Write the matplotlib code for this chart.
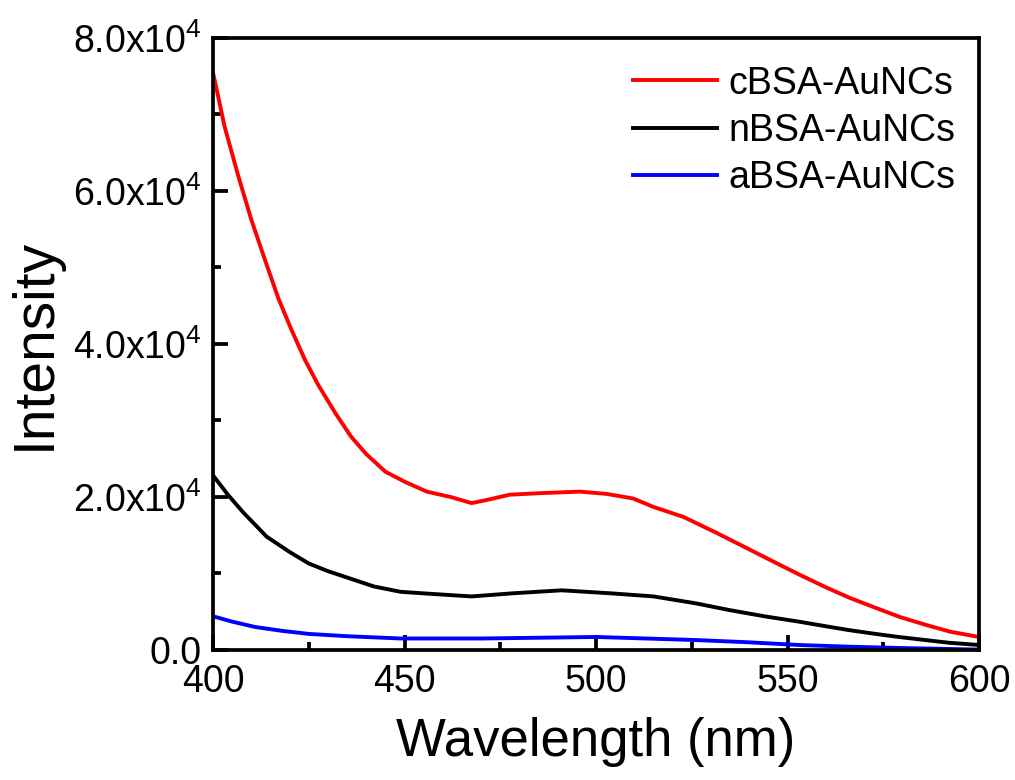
import matplotlib
matplotlib.use("Agg")
import matplotlib.pyplot as plt
from matplotlib.ticker import MultipleLocator, FuncFormatter
import numpy as np

plt.rcParams['font.family'] = ['Liberation Sans', 'DejaVu Sans']
plt.rcParams['mathtext.fontset'] = 'custom'
plt.rcParams['mathtext.rm'] = 'Liberation Sans'
plt.rcParams['mathtext.it'] = 'Liberation Sans'

# wavelength (nm) and emission intensity
wl_c = [400, 403, 406.6, 410, 413.6, 417, 420.5, 424, 427.5, 432, 436, 440, 445, 450, 455.8,
        462, 467.5, 471.4, 477.5, 485.4, 495.8, 502.8, 509.7, 515, 522.8, 531.5, 540.2,
        548.9, 553.3, 560, 566.3, 572, 579.4, 586, 592.4, 600]
c_bsa = [75400, 68400, 61900, 56200, 50900, 46000, 41800, 37900, 34600, 30900, 27900, 25600,
         23300, 22000, 20700, 20000, 19200, 19600, 20300, 20500, 20700, 20400, 19800, 18700,
         17400, 15300, 13100, 10900, 9800, 8200, 6800, 5700, 4300, 3300, 2400, 1700]

wl_n = [400, 404, 408, 414, 420, 425, 430, 436, 442, 449, 458, 467.5, 478, 491, 504,
        515, 526, 535, 544, 553, 560, 566, 573, 579, 586, 592, 600]
n_bsa = [22800, 20200, 17900, 14800, 12800, 11300, 10300, 9300, 8300, 7600, 7300, 7000,
         7400, 7800, 7400, 7000, 6100, 5200, 4400, 3700, 3100, 2600, 2100, 1700, 1300, 950, 650]

wl_a = [400, 405, 411, 418, 425, 435, 449, 470, 500, 526, 540, 553, 566, 580, 600]
a_bsa = [4400, 3700, 3000, 2500, 2100, 1800, 1500, 1500, 1700, 1300, 1000, 650, 430, 250, 50]

fig = plt.figure(figsize=(10.15, 7.8), dpi=100)
ax = fig.add_axes([0.21, 0.1667, 0.7545, 0.7846])

ax.plot(wl_c, c_bsa, color='#ff0000', lw=2.8, label='cBSA-AuNCs')
ax.plot(wl_n, n_bsa, color='black', lw=2.8, label='nBSA-AuNCs')
ax.plot(wl_a, a_bsa, color='#0000ff', lw=2.8, label='aBSA-AuNCs')

ax.set_xlim(400, 600)
ax.set_ylim(0, 80000)
ax.xaxis.set_major_locator(MultipleLocator(50))
ax.xaxis.set_minor_locator(MultipleLocator(25))
ax.yaxis.set_major_locator(MultipleLocator(20000))
ax.yaxis.set_minor_locator(MultipleLocator(10000))

def yfmt(v, pos):
    if v == 0:
        return '0.0'
    return '%.1fx10$^{4}$' % (v / 1e4)
ax.yaxis.set_major_formatter(FuncFormatter(yfmt))

ax.tick_params(which='both', direction='in', top=False, right=False, width=2.7)
ax.tick_params(which='major', length=11, labelsize=27)
ax.tick_params(axis='x', which='major', pad=10)
ax.tick_params(axis='y', which='major', pad=8)
ax.tick_params(which='minor', length=6)
for s in ax.spines.values():
    s.set_linewidth(2.7)

ax.set_xlabel('Wavelength (nm)', fontsize=38, labelpad=12)
ax.set_ylabel('Intensity', fontsize=41, labelpad=8)

ax.legend(loc='upper right', bbox_to_anchor=(1.013, 1.01), frameon=False, fontsize=27,
          handlelength=2.25, handletextpad=0.3, labelspacing=0.3)

fig.savefig('out.png', dpi=100)
